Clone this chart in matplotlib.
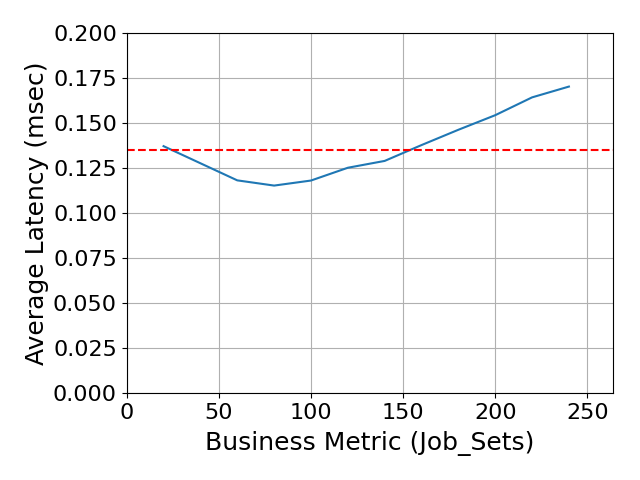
import numpy as np
import matplotlib
matplotlib.use("Agg")
import matplotlib.pyplot as plt

# job sets vs measured average latency
job_sets = [20, 40, 60, 80, 100, 120, 140, 160, 180, 200, 220, 240]
latency = [0.1372, 0.1277, 0.1182, 0.1153, 0.1181, 0.1252, 0.1290, 0.1378, 0.1463, 0.1544, 0.1643, 0.1703]
threshold = 0.135

fig, ax = plt.subplots(figsize=(6.4, 4.8), dpi=100)
ax.plot(job_sets, latency)
ax.axhline(threshold, color='r', linestyle='--')

ax.set_xlim(0, max(job_sets) * 1.1)
ax.set_ylim(0, 0.2)
ax.set_xlabel('Business Metric (Job_Sets)', fontsize=18, labelpad=6)
ax.set_ylabel('Average Latency (msec)', fontsize=18, labelpad=3)
ax.tick_params(labelsize=16)
ax.grid(True)

fig.subplots_adjust(left=0.198, right=0.958, top=0.931, bottom=0.181)
plt.savefig('out.png')
